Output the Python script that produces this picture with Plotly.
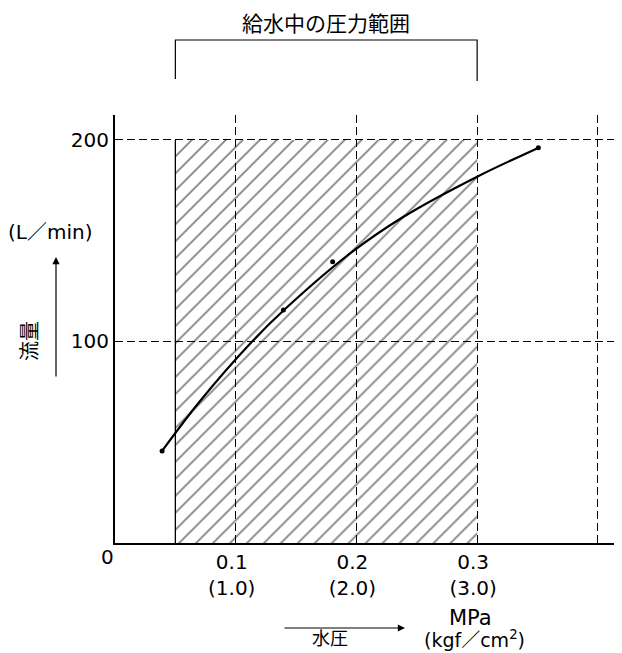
import plotly.graph_objects as go

FONT = "DejaVu Sans, Noto Sans CJK JP"
CJK = "Noto Sans CJK JP"

# pressure range in use (MPa) and hatched band top (L/min)
press_range = [0.05, 0.3]
band_top = 200

# flow curve
curve_x = [0.039, 0.070, 0.113, 0.140, 0.195, 0.239, 0.300, 0.351]
curve_y = [45.7, 70.1, 99.6, 115.6, 143.8, 161.9, 181.8, 196.2]

# measured points
dot_x = [0.039, 0.1395, 0.1803, 0.3507]
dot_y = [45.7, 115.6, 139.6, 196.2]

x_ticks = [0.1, 0.2, 0.3, 0.4]
x_labels = ["0.1<br>(1.0)", "0.2<br>(2.0)", "0.3<br>(3.0)", ""]
y_ticks = [100, 200]
y_labels = ["100", "200"]

# the page body has an 8px margin, so the figure is shrunk to fit
OFF = 8
W, H = 622 - OFF, 653 - OFF
# plot area in page pixels, used to place the loose labels
L, R, T, B = 115, 622, 115, 543


def px(x):
    return (x - L) / (R - L)


def py(y):
    return (B - y) / (B - T)


def label(text, x, y, size, family=FONT, angle=0):
    fig.add_annotation(x=px(x), y=py(y), xref="paper", yref="paper", text=text,
                       showarrow=False, xanchor="center", yanchor="middle",
                       textangle=angle, font=dict(size=size, family=family, color="black"))


fig = go.Figure()

fig.add_trace(go.Bar(
    x=[sum(press_range) / 2],
    y=[band_top],
    width=[press_range[1] - press_range[0]],
    marker=dict(
        color="rgba(0,0,0,0)",
        line=dict(width=0),
        pattern=dict(shape="/", fgcolor="black", bgcolor="rgba(0,0,0,0)",
                     size=12, solidity=0.14),
    ),
    hoverinfo="skip",
))

fig.add_trace(go.Scatter(
    x=curve_x, y=curve_y, mode="lines",
    line=dict(color="black", width=2.2, shape="spline", smoothing=0.9),
    hoverinfo="skip",
))
fig.add_trace(go.Scatter(
    x=dot_x, y=dot_y, mode="markers",
    marker=dict(color="black", size=5),
    hoverinfo="skip",
))

# solid left edge of the hatched band
fig.add_shape(type="line", x0=press_range[0], x1=press_range[0], y0=0, y1=band_top,
              xref="x", yref="y", line=dict(color="black", width=1.3))

# bracket above the plot
fig.add_shape(type="path", xref="x", yref="paper",
              path=f"M {press_range[0]},{py(79)} L {press_range[0]},{py(40)} "
                   f"L {press_range[1]},{py(40)} L {press_range[1]},{py(81)}",
              line=dict(color="black", width=1.2))

fig.add_annotation(x=sum(press_range) / 2, y=py(22), xref="x", yref="paper",
                   text="給水中の圧力範囲", showarrow=False,
                   xanchor="center", yanchor="middle",
                   font=dict(size=21, family=CJK, color="black"))

label("0", 107, 557, 20)

# y-axis title pieces
label("(L／min)", 50, 232, 20)
fig.add_annotation(x=px(56), y=py(257), ax=0, ay=121, xref="paper", yref="paper",
                   axref="pixel", ayref="pixel", text="", showarrow=True,
                   arrowhead=2, arrowsize=1.2, arrowwidth=1.2, arrowcolor="black")
label("流量", 28, 341, 20, CJK, -90)

# x-axis title pieces
fig.add_annotation(x=px(405), y=py(628), ax=-122, ay=0, xref="paper", yref="paper",
                   axref="pixel", ayref="pixel", text="", showarrow=True,
                   arrowhead=2, arrowsize=1.2, arrowwidth=1.2, arrowcolor="black")
label("水圧", 330, 637, 18, CJK)
label("MPa", 470, 618, 21)
label("(kgf／cm<sup>2</sup>)", 474, 639, 19)

fig.update_layout(
    width=W,
    height=H,
    margin=dict(l=L - OFF, r=622 - R, t=T - OFF, b=653 - B),
    paper_bgcolor="white",
    plot_bgcolor="white",
    showlegend=False,
    font=dict(family=FONT, size=20, color="black"),
    xaxis=dict(
        range=[0, 0.42],
        tickvals=x_ticks, ticktext=x_labels, ticklabelshift=-4,
        showgrid=True, gridcolor="black", gridwidth=1, griddash="8px,4px",
        showline=True, linecolor="black", linewidth=2,
        zeroline=False, ticks="", fixedrange=True,
    ),
    yaxis=dict(
        range=[0, 212.4],
        tickvals=y_ticks, ticktext=y_labels,
        showgrid=True, gridcolor="black", gridwidth=1, griddash="8px,4px",
        showline=True, linecolor="black", linewidth=2,
        zeroline=False, ticks="", fixedrange=True,
    ),
)

fig.write_html("out.html")
